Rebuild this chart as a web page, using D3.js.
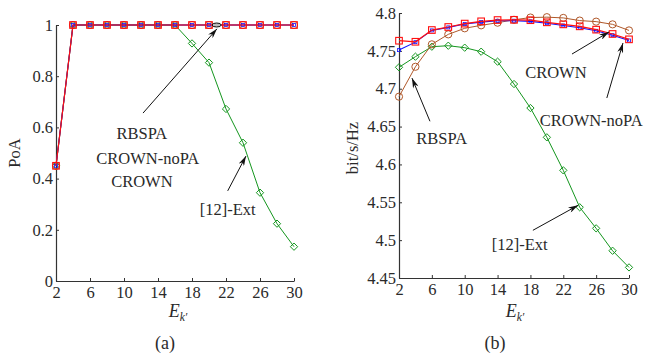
<!DOCTYPE html>
<html>
<head>
<meta charset="utf-8">
<script src="https://cdn.jsdelivr.net/npm/d3@7"></script>
<style>
  body { margin: 0; background: #fff; }
  text { font-family: "Liberation Serif", "DejaVu Serif", serif; fill: #2a2a2a; }
</style>
</head>
<body>
<div id="chart"></div>
<script>
// x values shared by both panels
var ek = [2, 4, 6, 8, 10, 12, 14, 16, 18, 20, 22, 24, 26, 28, 30];
var xTicks = [2, 6, 10, 14, 18, 22, 26, 30];

// (a) PoA
var poaCrown   = [0.45, 1, 1, 1, 1, 1, 1, 1, 1, 1, 1, 1, 1, 1, 1];
var poaNoPA    = [0.45, 1, 1, 1, 1, 1, 1, 1, 1, 1, 1, 1, 1, 1, 1];
var poaRbspa   = [0.45, 1, 1, 1, 1, 1, 1, 1, 1, 1, 1, 1, 1, 1, 1];
var poaExt     = [0.45, 1, 1, 1, 1, 1, 1, 1, 0.928, 0.853, 0.672, 0.540, 0.345, 0.224, 0.134];
var poaTicks   = [0, 0.2, 0.4, 0.6, 0.8, 1];

// (b) bit/s/Hz
var rateCrown  = [4.7634, 4.762, 4.7775, 4.7815, 4.786, 4.789, 4.7907, 4.791, 4.7905, 4.7877, 4.785, 4.7824, 4.778, 4.7723, 4.7652];
var rateNoPA   = [4.751, 4.7615, 4.777, 4.781, 4.7855, 4.788, 4.7897, 4.7898, 4.789, 4.7865, 4.7835, 4.7805, 4.7765, 4.7707, 4.7637];
var rateRbspa  = [4.6895, 4.729, 4.7586, 4.7718, 4.7798, 4.7837, 4.7872, 4.791, 4.794, 4.7945, 4.7935, 4.790, 4.7886, 4.785, 4.777];
var rateExt    = [4.7283, 4.7423, 4.7555, 4.7568, 4.7542, 4.7489, 4.7357, 4.7062, 4.6745, 4.6358, 4.5922, 4.5434, 4.5156, 4.486, 4.464];
var rateTicks  = [4.45, 4.5, 4.55, 4.6, 4.65, 4.7, 4.75, 4.8];

var W = 647, H = 354;
var FS = 16.5;
var svg = d3.select("#chart").append("svg").attr("width", W).attr("height", H);

var defs = svg.append("defs");
defs.append("marker")
  .attr("id", "ah")
  .attr("viewBox", "0 0 10 6")
  .attr("refX", 10).attr("refY", 3)
  .attr("markerWidth", 11).attr("markerHeight", 6)
  .attr("markerUnits", "userSpaceOnUse")
  .attr("orient", "auto")
  .append("path").attr("d", "M0,0 L10,3 L0,6 L3,3 Z").attr("fill", "#111");

var green = "#14961e", brown = "#b0582a", red = "#ff1010", blue = "#1010ff";

function panel(opt) {
  var x = d3.scaleLinear().domain([2, 30]).range(opt.xr);
  var y = d3.scaleLinear().domain(opt.yd).range(opt.yr);
  var g = svg.append("g");

  var xa = g.append("g").attr("transform", "translate(0," + opt.yr[0] + ")")
    .call(d3.axisBottom(x).tickValues(xTicks).tickSizeInner(-3).tickSizeOuter(0).tickPadding(5));
  var ya = g.append("g").attr("transform", "translate(" + opt.xr[0] + ",0)")
    .call(d3.axisLeft(y).tickValues(opt.yt).tickFormat(function(d) { return +d.toFixed(2); })
      .tickSizeInner(-3).tickSizeOuter(0).tickPadding(3));
  [xa, ya].forEach(function(a) {
    a.select(".domain").attr("stroke", "#333").attr("stroke-width", 1.2);
    a.selectAll(".tick line").attr("stroke", "#333");
    a.selectAll("text").attr("font-size", FS).attr("fill", "#2a2a2a")
      .attr("font-family", "Liberation Serif");
  });

  var line = d3.line().x(function(d) { return x(d[0]); }).y(function(d) { return y(d[1]); });
  function pts(v) { return ek.map(function(e, i) { return [e, v[i]]; }); }

  // green diamonds
  var ge = pts(opt.ext);
  g.append("path").attr("d", line(ge)).attr("fill", "none").attr("stroke", green).attr("stroke-width", 1);
  g.selectAll(".dia").data(ge).enter().append("path")
    .attr("d", d3.symbol(d3.symbolDiamond2, 34)())
    .attr("transform", function(d) { return "translate(" + x(d[0]) + "," + y(d[1]) + ")"; })
    .attr("fill", "none").attr("stroke", green).attr("stroke-width", 1);

  // brown circles
  var gb = pts(opt.rbspa);
  g.append("path").attr("d", line(gb)).attr("fill", "none").attr("stroke", brown).attr("stroke-width", 1);
  g.selectAll(".cir").data(gb).enter().append("circle")
    .attr("cx", function(d) { return x(d[0]); }).attr("cy", function(d) { return y(d[1]); })
    .attr("r", 3.6).attr("fill", "none").attr("stroke", brown).attr("stroke-width", 1);

  // blue
  var gn = pts(opt.nopa);
  g.append("path").attr("d", line(gn)).attr("fill", "none").attr("stroke", blue).attr("stroke-width", 1.1);
  g.selectAll(".bsq").data(gn).enter().append("rect")
    .attr("x", function(d) { return x(d[0]) - 1.5; }).attr("y", function(d) { return y(d[1]) - 1.5; })
    .attr("width", 3).attr("height", 3).attr("fill", "none").attr("stroke", blue).attr("stroke-width", 0.8);

  // red squares
  var gc = pts(opt.crown);
  g.append("path").attr("d", line(gc)).attr("fill", "none").attr("stroke", red).attr("stroke-width", 1.2);
  g.selectAll(".rsq").data(gc).enter().append("rect")
    .attr("x", function(d) { return x(d[0]) - 3.3; }).attr("y", function(d) { return y(d[1]) - 3.3; })
    .attr("width", 6.6).attr("height", 6.6).attr("fill", "none").attr("stroke", red).attr("stroke-width", 1.1);

  // axis labels
  g.append("text").attr("transform", "translate(" + opt.ylx + "," + opt.yly + ") rotate(-90)")
    .attr("text-anchor", "middle").attr("font-size", FS).text(opt.ylabel);
  var xl = g.append("text").attr("x", opt.xlx).attr("y", 317)
    .attr("text-anchor", "middle").attr("font-size", 18).attr("font-style", "italic")
    .attr("font-family", "DejaVu Serif");
  xl.append("tspan").text("E");
  xl.append("tspan").attr("font-size", 11.5).attr("dy", 4).text("k\u2032");
  g.append("text").attr("x", opt.capx).attr("y", 349).attr("text-anchor", "middle")
    .attr("font-size", 18).text(opt.cap);

  // annotations
  opt.labels.forEach(function(l) {
    g.append("text").attr("x", x(l[0])).attr("y", y(l[1])).attr("dy", "0.35em")
      .attr("text-anchor", "middle").attr("font-size", FS).text(l[2]);
  });
  opt.arrows.forEach(function(a) {
    g.append("line").attr("x1", x(a[0])).attr("y1", y(a[1])).attr("x2", x(a[2])).attr("y2", y(a[3]))
      .attr("stroke", "#111").attr("stroke-width", 1).attr("marker-end", "url(#ah)");
  });
  return { x: x, y: y, g: g };
}

var pa = panel({
  xr: [56, 294], yd: [0, 1], yr: [281, 25], yt: poaTicks,
  crown: poaCrown, nopa: poaNoPA, rbspa: poaRbspa, ext: poaExt,
  ylabel: "PoA", ylx: 20, yly: 153, cap: "(a)", capx: 165, xlx: 178,
  labels: [[12.1, 0.578, "RBSPA"], [12.8, 0.48, "CROWN-noPA"], [12.1, 0.39, "CROWN"], [22.2, 0.28, "[12]-Ext"]],
  arrows: [[12.24, 0.656, 20.94, 0.985], [22.2, 0.352, 24.35, 0.488]]
});
pa.g.append("ellipse").attr("cx", pa.x(20.9)).attr("cy", pa.y(1)).attr("rx", 4.5).attr("ry", 2)
  .attr("fill", "#bbb").attr("stroke", "#111").attr("stroke-width", 1);

panel({
  xr: [399, 629], yd: [4.45, 4.8], yr: [278, 13], yt: rateTicks,
  crown: rateCrown, nopa: rateNoPA, rbspa: rateRbspa, ext: rateExt,
  ylabel: "bit/s/Hz", ylx: 358, yly: 148, cap: "(b)", capx: 495, xlx: 515,
  labels: [[21.1, 4.722, "CROWN"], [25.4, 4.659, "CROWN-noPA"], [7.2, 4.635, "RBSPA"], [16.7, 4.494, "[12]-Ext"]],
  arrows: [[23.06, 4.7458, 27.57, 4.775], [27.3, 4.6877, 29.27, 4.7604], [5.77, 4.657, 3.58, 4.714], [18.3, 4.513, 23.8, 4.546]]
});
</script>
</body>
</html>
